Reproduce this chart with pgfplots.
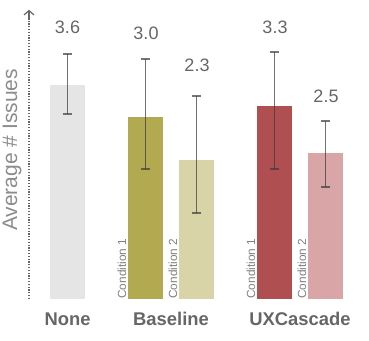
\documentclass[border=0pt]{standalone}
\usepackage{fontspec}
\setmainfont{Liberation Sans}
\usepackage{pgfplots}
\pgfplotsset{compat=1.18}
\usetikzlibrary{arrows.meta}

\definecolor{nonec}{HTML}{E5E5E5}
\definecolor{baseA}{HTML}{B2A950}
\definecolor{baseB}{HTML}{D8D4A7}
\definecolor{uxA}{HTML}{B04F51}
\definecolor{uxB}{HTML}{D9A5A7}
\definecolor{txt}{HTML}{666666}
\definecolor{errc}{HTML}{3C3C3C}

% bar centres in px, values in issues
\pgfplotstableread{
x     y     lab
67.5  4.58  3.6
146   4.48  3.0
197   3.94  2.3
275   4.58  3.3
326   3.42  2.5
}\valuelabels
\pgfplotstableread{
x     y      lab
67.5  -0.34  None
171   -0.34  Baseline
300   -0.34  UXCascade
}\catlabels
\pgfplotstableread{
x     y     lab
126   0.0  {Condition 1}
177   0.0  {Condition 2}
255   0.0  {Condition 1}
306   0.0  {Condition 2}
}\condlabels

\begin{document}
\begin{tikzpicture}
\begin{axis}[
    scale only axis,
    width=184.5pt, height=170.5pt,
    xmin=0, xmax=369, ymin=-0.707, ymax=5.034,
    hide axis, clip=false,
    every axis plot/.append style={bar width=35, bar shift=0pt},
    errs/.style={
        error bars/.cd, y dir=both, y explicit,
        error bar style={line width=0.8pt, errc, opacity=0.7},
        error mark options={rotate=90, mark size=2.3pt, line width=0.8pt, errc, opacity=0.7},
    },
]
\path (rel axis cs:0,0) rectangle (rel axis cs:1,1);

\addplot[ybar, fill=nonec, draw=none, errs]
  coordinates {(67.5,3.6) += (0,0.52) -= (0,0.49)};
\addplot[ybar, fill=baseA, draw=none, errs]
  coordinates {(145.5,3.06) += (0,0.98) -= (0,0.87)};
\addplot[ybar, fill=baseB, draw=none, errs]
  coordinates {(196.5,2.34) += (0,1.08) -= (0,0.89)};
\addplot[ybar, fill=uxA, draw=none, errs]
  coordinates {(274.5,3.25) += (0,0.91) -= (0,1.06)};
\addplot[ybar, fill=uxB, draw=none, errs]
  coordinates {(325.5,2.46) += (0,0.54) -= (0,0.57)};

% value labels
\addplot[only marks, mark=*, mark size=0pt, mark options={draw=none, fill=none},
    nodes near coords, point meta=explicit symbolic,
    nodes near coords style={anchor=center, text=txt, font=\fontsize{9}{10}\selectfont}]
  table[x=x, y=y, meta=lab] {\valuelabels};
% category labels
\addplot[only marks, mark=*, mark size=0pt, mark options={draw=none, fill=none},
    nodes near coords, point meta=explicit symbolic,
    nodes near coords style={anchor=center, inner sep=0pt, text=txt, font=\fontsize{9.2}{10}\selectfont\bfseries}]
  table[x=x, y=y, meta=lab] {\catlabels};
% condition labels
\addplot[only marks, mark=*, mark size=0pt, mark options={draw=none, fill=none},
    nodes near coords, point meta=explicit symbolic,
    nodes near coords style={anchor=base west, rotate=90, inner sep=0pt, text=black!50, font=\fontsize{5.9}{7}\selectfont}]
  table[x=x, y=y, meta=lab] {\condlabels};

% y axis
\draw[black!60, line width=0.6pt, dash pattern=on 0.6pt off 0.8pt] (axis cs:29,0) -- (axis cs:29,4.74);
\draw[black!60, line width=0.6pt, -{Straight Barb[length=2.2pt, width=5pt]}] (axis cs:29,4.70) -- (axis cs:29,4.87);
\node[rotate=90, inner sep=0pt, text=black!45, font=\fontsize{10.5}{12}\selectfont] at (axis cs:12,2.51) {Average \# Issues};
\end{axis}
\end{tikzpicture}
\end{document}
